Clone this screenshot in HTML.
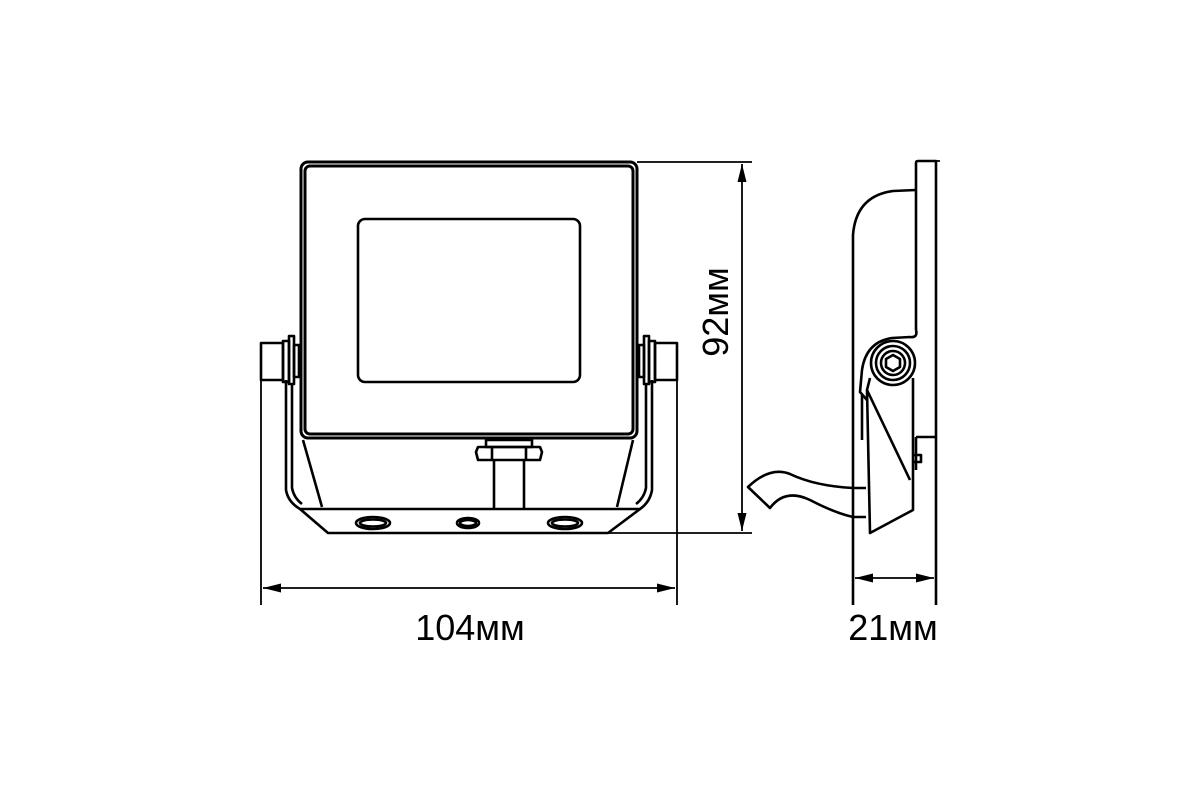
<!DOCTYPE html>
<html><head><meta charset="utf-8"><style>html,body{margin:0;padding:0;background:#fff}svg{display:block}</style></head>
<body>
<svg width="1200" height="800" viewBox="0 0 1200 800" xmlns="http://www.w3.org/2000/svg">
<defs>
<marker id="b" viewBox="0 0 20 10" refX="20" refY="5" markerWidth="20" markerHeight="9" orient="auto-start-reverse" markerUnits="userSpaceOnUse"><path d="M0,0 L20,5 L0,10 z" fill="#000"/></marker>
</defs>
<g fill="none" stroke="#000" stroke-width="2.6" stroke-linejoin="round">
<rect x="301" y="162" width="336" height="276" rx="7" stroke-width="3"/>
<rect x="305" y="166" width="328" height="268" rx="5" stroke-width="3"/>
<rect x="358" y="219" width="222" height="163" rx="7"/>
<path d="M303,440 L322,507 M633,440 L617,507"/>
<path d="M286,380 L286,490 Q288,502 300,509 L640,509 Q650,502 652,490 L652,380"/>
<path d="M292,383 L292,488 Q294,498 302,504 M646,383 L646,488 Q644,498 636,504"/>
<path d="M300,509 L328,533 L608,533 L640,509"/>
<ellipse cx="373" cy="523" rx="17" ry="6"/><ellipse cx="373" cy="523" rx="13" ry="3.5"/>
<ellipse cx="468" cy="523" rx="11" ry="5"/><ellipse cx="468" cy="523" rx="8" ry="3"/>
<ellipse cx="565" cy="523" rx="17" ry="6"/><ellipse cx="565" cy="523" rx="13" ry="3.5"/>
<rect x="486" y="440" width="46" height="7"/>
<path d="M478,447 L540,447 L542,452 L540,460 L478,460 L476,452 Z"/>
<path d="M492,447 L492,460 M526,447 L526,460"/>
<path d="M494,460 L494,508 M524,460 L524,508"/>
<rect x="261" y="343" width="22" height="37"/>
<rect x="283" y="341" width="6" height="41"/>
<rect x="289" y="336" width="5" height="48"/>
<rect x="294" y="345" width="5" height="32"/>
<rect x="655" y="343" width="22" height="37"/>
<rect x="649" y="341" width="6" height="41"/>
<rect x="644" y="336" width="5" height="48"/>
<rect x="639" y="345" width="5" height="32"/>
<path d="M916,330 L916,163 Q916,161 918,161 L936,161 L936,605"/>
<path d="M916,437 L936,437"/>
<path d="M916,190 L893,191 Q856,196 853,235 L853,605"/>
<path d="M916,330 Q918,338 910,337 L892,338 Q866,342 862,370 L860,392 L867,400"/>
<circle cx="893" cy="363" r="22"/>
<circle cx="893" cy="363" r="17"/>
<circle cx="893" cy="363" r="12"/>
<path d="M893,355 L900,359 L900,367 L893,371 L886,367 L886,359 Z"/>
<path d="M870,378 L867,390 L870,533 L913,510 L913,378"/>
<path d="M867,390 L910,480"/>
<path d="M862,395 L862,440 M916,437 L916,470 M913,455 L921,455 L921,462 L913,462"/>
<path d="M866,488 L853,488 Q815,486 790,474 Q770,466 748,487 L770,508 Q785,488 810,500 Q835,513 853,517 L866,517"/>
<g stroke-width="1.8">
<path d="M261,380 L261,605 M677,380 L677,605"/>
<path d="M263,588 L675,588" marker-start="url(#b)" marker-end="url(#b)"/>
<path d="M637,162 L752,162 M608,533 L752,533 M916,161 L940,161"/>
<path d="M742,164 L742,531" marker-start="url(#b)" marker-end="url(#b)"/>
<path d="M855,578 L934,578" marker-start="url(#b)" marker-end="url(#b)"/>
</g>
</g>
<g font-family="Liberation Sans, sans-serif" font-size="36" fill="#000">
<text x="470" y="640" text-anchor="middle">104мм</text>
<text x="893" y="640" text-anchor="middle">21мм</text>
<text transform="translate(728,312) rotate(-90)" text-anchor="middle">92мм</text>
</g>
</svg>
</body></html>
